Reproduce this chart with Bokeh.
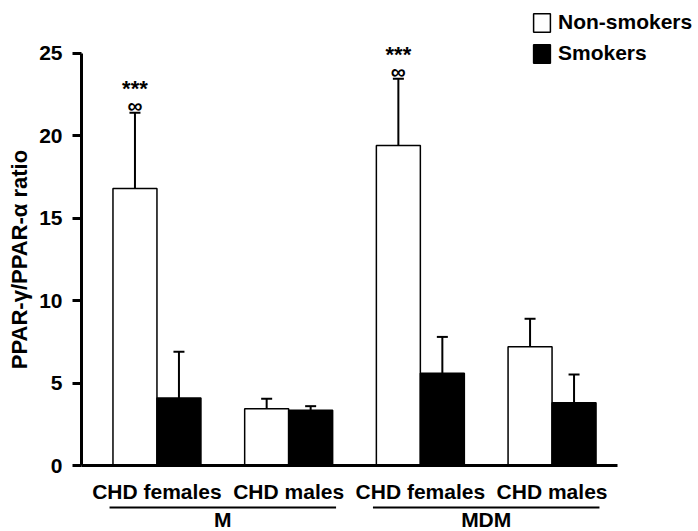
from bokeh.plotting import figure
from bokeh.models import (Range1d, FixedTicker, Whisker, TeeHead, ColumnDataSource,
                          LabelSet, Label, Legend, LegendItem, Arrow, LinearAxis)
from bokeh.core.properties import value
from bokeh.embed import file_html
from bokeh.resources import INLINE

# PPAR-gamma / PPAR-alpha ratio by sex and cell type (M, MDM)
subgroups = ["CHD females", "CHD males", "CHD females", "CHD males"]
cell_types = ["M", "MDM"]
non_smokers = [16.8, 3.45, 19.4, 7.2]
non_smokers_err = [4.6, 0.6, 4.05, 1.7]
smokers = [4.1, 3.35, 5.6, 3.8]
smokers_err = [2.8, 0.25, 2.2, 1.72]
stars = ["***", "", "***", ""]
inf_marks = ["\u221e", "", "\u221e", ""]
y_ticks = [0, 5, 10, 15, 20, 25]

FONT = "Liberation Sans"
centers = [i + 1 for i in range(len(subgroups))]
offset = 0.167
bar_w = 0.334
x_lo, x_hi = 0.427, 4.496     # extent of the category axis
y_lo, y_hi = 0, 25            # extent of the value axis

ns_src = ColumnDataSource(dict(
    x=[c - offset for c in centers], top=non_smokers,
    upper=[v + e for v, e in zip(non_smokers, non_smokers_err)],
    star_y=[v + e + 1.45 for v, e in zip(non_smokers, non_smokers_err)],
    inf_y=[v + e + 0.45 for v, e in zip(non_smokers, non_smokers_err)],
    stars=stars, infs=inf_marks,
))
s_src = ColumnDataSource(dict(
    x=[c + offset for c in centers], top=smokers,
    upper=[v + e for v, e in zip(smokers, smokers_err)],
))

# the plotting frame fills the whole canvas; axes are pinned inside it
p = figure(width=698, height=531, output_backend="svg", toolbar_location=None,
           x_range=Range1d(-0.188, 5.112), y_range=Range1d(-4.0, 28.2),
           min_border=0, x_axis_type=None, y_axis_type=None)
p.outline_line_color = None
p.xgrid.visible = False
p.ygrid.visible = False
p.background_fill_color = "white"
p.border_fill_color = "white"

r_ns = p.vbar(x="x", top="top", width=bar_w, bottom=0, source=ns_src,
              fill_color="white", line_color="black", line_width=1.5)
r_s = p.vbar(x="x", top="top", width=bar_w, bottom=0, source=s_src,
             fill_color="black", line_color="black", line_width=1.5)

for src in (ns_src, s_src):
    w = Whisker(base="x", lower="top", upper="upper", source=src,
                line_width=2, line_color="black", lower_head=None,
                upper_head=TeeHead(size=11, line_width=2, line_color="black"))
    p.add_layout(w)

# significance marks over the non-smoker bars
p.add_layout(LabelSet(x="x", y="star_y", text="stars", source=ns_src,
                      text_align="center", text_baseline="middle",
                      text_font=value(FONT), text_font_style="bold",
                      text_font_size="22px", text_color="black"))
p.add_layout(LabelSet(x="x", y="inf_y", text="infs", source=ns_src,
                      text_align="center", text_baseline="middle",
                      text_font=value(FONT), text_font_style="bold",
                      text_font_size="21px", text_color="black"))

# value axis
ya = LinearAxis(fixed_location=x_lo, bounds=(y_lo, y_hi))
ya.ticker = FixedTicker(ticks=y_ticks)
ya.axis_label = "PPAR-\u03b3/PPAR-\u03b1 ratio"
ya.axis_label_text_font = FONT
ya.axis_label_text_font_style = "bold"
ya.axis_label_text_font_size = "22px"
ya.axis_label_text_color = "black"
ya.axis_label_standoff = 4
ya.axis_line_width = 3
ya.axis_line_color = "black"
ya.major_tick_line_width = 3
ya.major_tick_line_color = "black"
ya.major_tick_out = 9
ya.major_tick_in = 0
ya.minor_tick_line_color = None
ya.major_label_standoff = 10
ya.major_label_text_font = FONT
ya.major_label_text_font_style = "bold"
ya.major_label_text_font_size = "21px"
ya.major_label_text_color = "black"
p.add_layout(ya, "left")

# category axis
xa = LinearAxis(fixed_location=y_lo, bounds=(x_lo, x_hi))
xa.ticker = FixedTicker(ticks=centers)
xa.major_label_overrides = {c: s for c, s in zip(centers, subgroups)}
xa.axis_line_width = 3
xa.axis_line_color = "black"
xa.major_tick_out = 0
xa.major_tick_in = 0
xa.minor_tick_line_color = None
xa.major_label_standoff = 14
xa.major_label_text_font = FONT
xa.major_label_text_font_style = "bold"
xa.major_label_text_font_size = "21px"
xa.major_label_text_color = "black"
p.add_layout(xa, "below")

# cell-type group labels with underline bars
for k, name in enumerate(cell_types):
    gc = (centers[2 * k] + centers[2 * k + 1]) / 2
    p.add_layout(Arrow(end=None, x_start=gc - 0.86, x_end=gc + 0.86,
                       y_start=-2.55, y_end=-2.55, line_width=2, line_color="black"))
    p.add_layout(Label(x=gc, y=-3.3, text=name, text_align="center",
                       text_baseline="middle", text_font=FONT,
                       text_font_style="bold", text_font_size="21px",
                       text_color="black"))

legend = Legend(items=[LegendItem(label="Non-smokers", renderers=[r_ns]),
                       LegendItem(label="Smokers", renderers=[r_s])],
                location=(531, 466), glyph_width=21, glyph_height=23,
                label_height=23, spacing=7, padding=0, margin=0,
                label_standoff=6, border_line_alpha=0, background_fill_alpha=0,
                label_text_font=FONT, label_text_font_style="bold",
                label_text_font_size="21px", label_text_color="black")
p.add_layout(legend)

open("out.html", "w").write(file_html(p, INLINE))
